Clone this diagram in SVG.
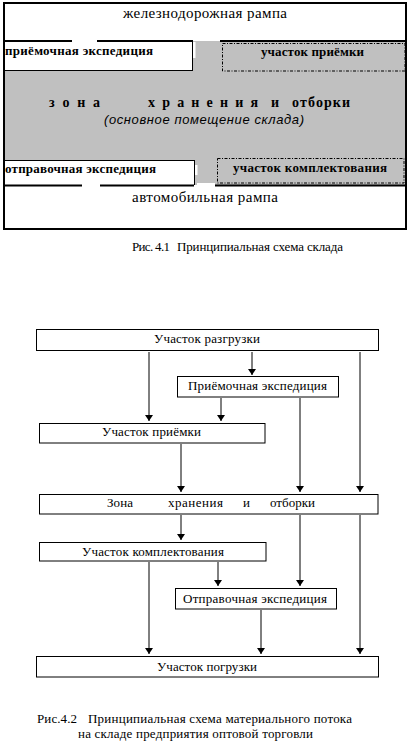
<svg xmlns="http://www.w3.org/2000/svg" width="411" height="753" viewBox="0 0 411 753">
<style>
.serif{font-family:"Liberation Serif","Times New Roman",serif;fill:#000}
.bold{font-family:"Liberation Serif","Times New Roman",serif;font-weight:bold;fill:#000}
.ital{font-family:"Liberation Sans",Arial,sans-serif;font-style:italic;fill:#000}
.box{fill:#fff;stroke:#000;stroke-width:1}
.dash{fill:#c0c0c0;stroke:#000;stroke-width:1;stroke-dasharray:3,1.5,1,1.5}
.thick{stroke:#000;stroke-width:2;fill:none}
.thin{stroke:#000;stroke-width:1;fill:none}
.conn line{stroke:#000;stroke-width:1;marker-end:url(#arr)}
</style>
<defs>
<marker id="arr" viewBox="0 0 6 8" refX="6" refY="4" markerWidth="6" markerHeight="8" markerUnits="userSpaceOnUse" orient="auto">
<path d="M0,0 L6,4 L0,8 z" fill="#000"/>
</marker>
</defs>
<rect width="411" height="753" fill="#fff"/>

<!-- Fig 4.1 -->
<g id="fig41">
<rect x="4" y="41" width="402" height="144" fill="#c0c0c0"/>
<g id="priemochnaya">
<rect x="4" y="41" width="188.5" height="29.5" fill="#fff"/>
<line class="thin" x1="192.5" y1="41" x2="192.5" y2="71"/>
<line class="thin" x1="4" y1="70.5" x2="193" y2="70.5"/>
<rect x="193" y="42" width="2.5" height="16" fill="#fff"/>
<text class="bold" x="5" y="55" font-size="13" textLength="148" lengthAdjust="spacing">приёмочная экспедиция</text>
</g>
<g id="uchastok-priemki">
<rect class="dash" x="222.5" y="43.5" width="182.5" height="27.5"/>
<text class="bold" x="261" y="56" font-size="13" textLength="103" lengthAdjust="spacing">участок приёмки</text>
</g>
<g id="otpravochnaya">
<rect x="4" y="160" width="190.5" height="25" fill="#fff"/>
<line class="thin" x1="4" y1="160.5" x2="195" y2="160.5"/>
<line class="thin" x1="194.5" y1="160" x2="194.5" y2="185"/>
<rect x="195" y="165" width="2.5" height="10" fill="#fff"/>
<text class="bold" x="5" y="173" font-size="13" textLength="151" lengthAdjust="spacing">отправочная экспедиция</text>
</g>
<g id="uchastok-komplekt">
<rect class="dash" x="217.5" y="158.5" width="186.5" height="24.5"/>
<text class="bold" x="233" y="172" font-size="13" textLength="154" lengthAdjust="spacing">участок комплектования</text>
</g>
<rect x="197" y="183" width="18" height="3" fill="#fff"/>
<line class="thick" x1="4" y1="41" x2="72" y2="41"/>
<line class="thick" x1="97" y1="41" x2="193" y2="41"/>
<line class="thick" x1="220" y1="41" x2="406" y2="41"/>
<line class="thick" x1="4" y1="185.5" x2="82" y2="185.5"/>
<line class="thick" x1="100" y1="185.5" x2="194" y2="185.5"/>
<line class="thick" x1="215" y1="185.5" x2="406" y2="185.5"/>
<rect class="thick" x="4" y="3" width="402" height="226"/>
<g id="zona">
<text class="bold" y="107" font-size="14"><tspan x="49" textLength="51" lengthAdjust="spacing">з о н а</tspan><tspan x="148" textLength="110" lengthAdjust="spacing">х р а н е н и я</tspan><tspan x="271" textLength="11" lengthAdjust="spacing">и</tspan><tspan x="292" textLength="58" lengthAdjust="spacing">о т б о р к и</tspan></text>
<text class="ital" x="104" y="124" font-size="13" textLength="200" lengthAdjust="spacing">(основное помещение склада)</text>
</g>
<text id="zhd" class="serif" x="123" y="18" font-size="15" textLength="164" lengthAdjust="spacing">железнодорожная рампа</text>
<text id="avto" class="serif" x="132" y="202" font-size="15" textLength="146" lengthAdjust="spacing">автомобильная рампа</text>
<text id="cap41" class="serif" y="251" font-size="13"><tspan x="132" textLength="38" lengthAdjust="spacing">Рис. 4.1</tspan><tspan x="177" textLength="166" lengthAdjust="spacing">Принципиальная схема склада</tspan></text>
</g>

<!-- Fig 4.2 -->
<g class="conn" id="connectors">
<line x1="149" y1="352" x2="149" y2="421"/>
<line x1="252" y1="352" x2="252" y2="375"/>
<line x1="360" y1="352" x2="360" y2="492"/>
<line x1="221" y1="398" x2="221" y2="421"/>
<line x1="300" y1="398" x2="300" y2="492"/>
<line x1="181" y1="444" x2="181" y2="492"/>
<line x1="181" y1="515" x2="181" y2="540"/>
<line x1="300" y1="515" x2="300" y2="586"/>
<line x1="360" y1="515" x2="360" y2="654"/>
<line x1="149" y1="562" x2="149" y2="654"/>
<line x1="218" y1="562" x2="218" y2="586"/>
<line x1="261" y1="610" x2="261" y2="654"/>
</g>
<g id="razgruzki">
<rect class="box" x="36.5" y="329.5" width="342" height="21"/>
<text class="serif" x="154" y="343" font-size="13" textLength="106" lengthAdjust="spacing">Участок разгрузки</text>
</g>
<g id="priem-exp">
<rect class="box" x="177.5" y="376.5" width="161" height="20.5"/>
<text class="serif" x="188" y="390" font-size="13" textLength="139" lengthAdjust="spacing">Приёмочная экспедиция</text>
</g>
<g id="priemki">
<rect class="box" x="39.5" y="423.5" width="225.5" height="19.5"/>
<text class="serif" x="102" y="436" font-size="13" textLength="99" lengthAdjust="spacing">Участок приёмки</text>
</g>
<g id="zona2">
<rect class="box" x="39.5" y="494.5" width="338.5" height="19.5"/>
<text class="serif" y="507" font-size="13"><tspan x="107" textLength="26" lengthAdjust="spacing">Зона</tspan><tspan x="168" textLength="55" lengthAdjust="spacing">хранения</tspan><tspan x="243" textLength="7" lengthAdjust="spacing">и</tspan><tspan x="270" textLength="45" lengthAdjust="spacing">отборки</tspan></text>
</g>
<g id="komplekt">
<rect class="box" x="39.5" y="542.5" width="226.5" height="18.5"/>
<text class="serif" x="82" y="556" font-size="13" textLength="142" lengthAdjust="spacing">Участок комплектования</text>
</g>
<g id="otpr-exp">
<rect class="box" x="175.5" y="588.5" width="161" height="20.5"/>
<text class="serif" x="183" y="603" font-size="13" textLength="144" lengthAdjust="spacing">Отправочная экспедиция</text>
</g>
<g id="pogruzki">
<rect class="box" x="36.5" y="656.5" width="342" height="20.5"/>
<text class="serif" x="157" y="671" font-size="13" textLength="100" lengthAdjust="spacing">Участок погрузки</text>
</g>
<text id="cap42" class="serif" y="723" font-size="13"><tspan x="37" textLength="40" lengthAdjust="spacing">Рис.4.2</tspan><tspan x="88" textLength="264" lengthAdjust="spacing">Принципиальная схема материального потока</tspan></text>
<text class="serif" x="78" y="738" font-size="13" textLength="235" lengthAdjust="spacing">на складе предприятия оптовой торговли</text>
</svg>
